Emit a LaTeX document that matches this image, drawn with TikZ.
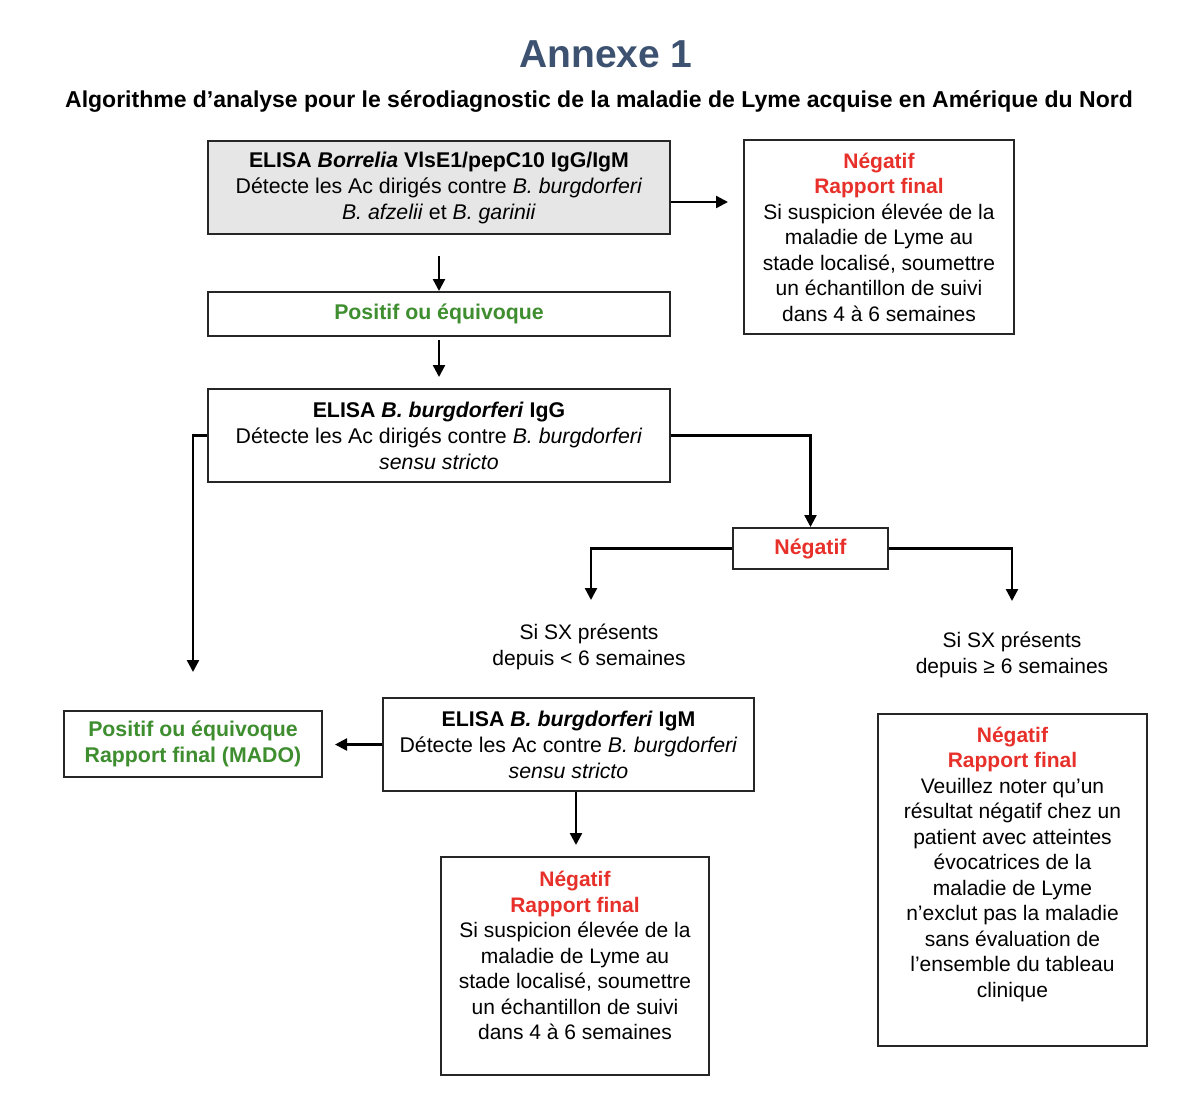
\documentclass[tikz,border=0pt]{standalone}
\usepackage{fontspec}
\setmainfont{Liberation Sans}
\usetikzlibrary{arrows.meta}
\definecolor{titleblue}{HTML}{3D5270}
\definecolor{posgreen}{HTML}{3E8E2F}
\definecolor{negred}{HTML}{E8302A}
\definecolor{boxgray}{HTML}{E6E6E6}
\begin{document}
\begin{tikzpicture}[x=0.5pt,y=-0.5pt,
  box/.style={draw=black!85, line width=1pt, inner sep=0pt, align=center},
  txt/.style={font=\fontsize{10.5}{12.75}\selectfont},
  etxt/.style={font=\fontsize{10.65}{13}\selectfont},
  plain/.style={align=center, inner sep=0pt},
  conn/.style={line width=1.2pt, -{Triangle[length=6pt,width=6pt]}},
  ]
\useasboundingbox (0,0) rectangle (1200,1115);
\fill[white] (0,0) rectangle (1200,1115);

% titles
\node[plain, text=titleblue, font=\bfseries\fontsize{19.5}{22}\selectfont] (title) at (606,54.5) {Annexe 1};
\node[plain, font=\bfseries\fontsize{11.5}{13}\selectfont] (subtitle) at (599,101) {Algorithme d’analyse pour le sérodiagnostic de la maladie de Lyme acquise en Amérique du Nord};

% boxes
\node[box, etxt, fill=boxgray, minimum width=231pt, minimum height=46.5pt] (b1) at (439,187.5)
  {\textbf{ELISA \textit{Borrelia} VlsE1/pepC10 IgG/IgM}\\Détecte les Ac dirigés contre \textit{B. burgdorferi}\\\textit{B. afzelii} et \textit{B. garinii}};
\node[box, txt, minimum width=135pt, minimum height=97pt] (nt) at (879,237)
  {\textcolor{negred}{\textbf{Négatif}}\\\textcolor{negred}{\textbf{Rapport final}}\\Si suspicion élevée de la\\maladie de Lyme au\\stade localisé, soumettre\\un échantillon de suivi\\dans 4 à 6 semaines};
\node[box, etxt, minimum width=231pt, minimum height=22pt, text=posgreen] (b2) at (439,314)
  {\textbf{Positif ou équivoque}};
\node[box, etxt, minimum width=231pt, minimum height=46.5pt] (b3) at (439,435.5)
  {\textbf{ELISA \textit{B. burgdorferi}} \textbf{IgG}\\Détecte les Ac dirigés contre \textit{B. burgdorferi}\\\textit{sensu stricto}};
\node[box, etxt, minimum width=77.5pt, minimum height=20.5pt, text=negred] (b4) at (810.5,548.5)
  {\textbf{Négatif}};
\node[box, etxt, minimum width=129pt, minimum height=33pt, text=posgreen] (mado) at (193,744)
  {\textbf{Positif ou équivoque}\\\textbf{Rapport final (MADO)}};
\node[box, etxt, minimum width=185.5pt, minimum height=46.5pt] (igm) at (568.5,744.5)
  {\textbf{ELISA \textit{B. burgdorferi}} \textbf{IgM}\\Détecte les Ac contre \textit{B. burgdorferi}\\\textit{sensu stricto}};
\node[box, minimum width=134pt, minimum height=109pt] (nb) at (575,966) {};
\node[plain, txt] (nbt) at (575,955.5)
  {\textcolor{negred}{\textbf{Négatif}}\\\textcolor{negred}{\textbf{Rapport final}}\\Si suspicion élevée de la\\maladie de Lyme au\\stade localisé, soumettre\\un échantillon de suivi\\dans 4 à 6 semaines};
\node[box, minimum width=134.5pt, minimum height=166pt] (nr) at (1012.5,880) {};
\node[plain, txt] (nrt) at (1012.5,864)
  {\textcolor{negred}{\textbf{Négatif}}\\\textcolor{negred}{\textbf{Rapport final}}\\Veuillez noter qu’un\\résultat négatif chez un\\patient avec atteintes\\évocatrices de la\\maladie de Lyme\\n’exclut pas la maladie\\sans évaluation de\\l’ensemble du tableau\\clinique};

% labels
\node[plain, txt] (sxa) at (589,647) {Si SX présents\\depuis < 6 semaines};
\node[plain, txt] (sxb) at (1012,655) {Si SX présents\\depuis ≥ 6 semaines};

% connector end points
\coordinate (e1) at (728,202);
\coordinate (s2) at (439,256);
\coordinate (s3) at (439,340);
\coordinate (e3) at (439,377);
\coordinate (eL) at (193,672);
\coordinate (eA) at (591,600);
\coordinate (eB) at (1012,601);
\coordinate (eM) at (335,744.5);
\coordinate (sN) at (576,791);
\coordinate (eN) at (576,845);

% connectors
\draw[conn] (b1.east |- e1) -- (e1);
\draw[conn] (s2) -- (b2.north);
\draw[conn] (s3) -- (e3);
\draw[conn] (b3.west) -| (eL);
\draw[conn] (b3.east) -| (b4.north);
\draw[conn] (b4.west) -| (eA);
\draw[conn] (b4.east) -| (eB);
\draw[conn] (igm.west) -- (eM);
\draw[conn] (sN |- igm.south) -- (eN);
\end{tikzpicture}
\end{document}
